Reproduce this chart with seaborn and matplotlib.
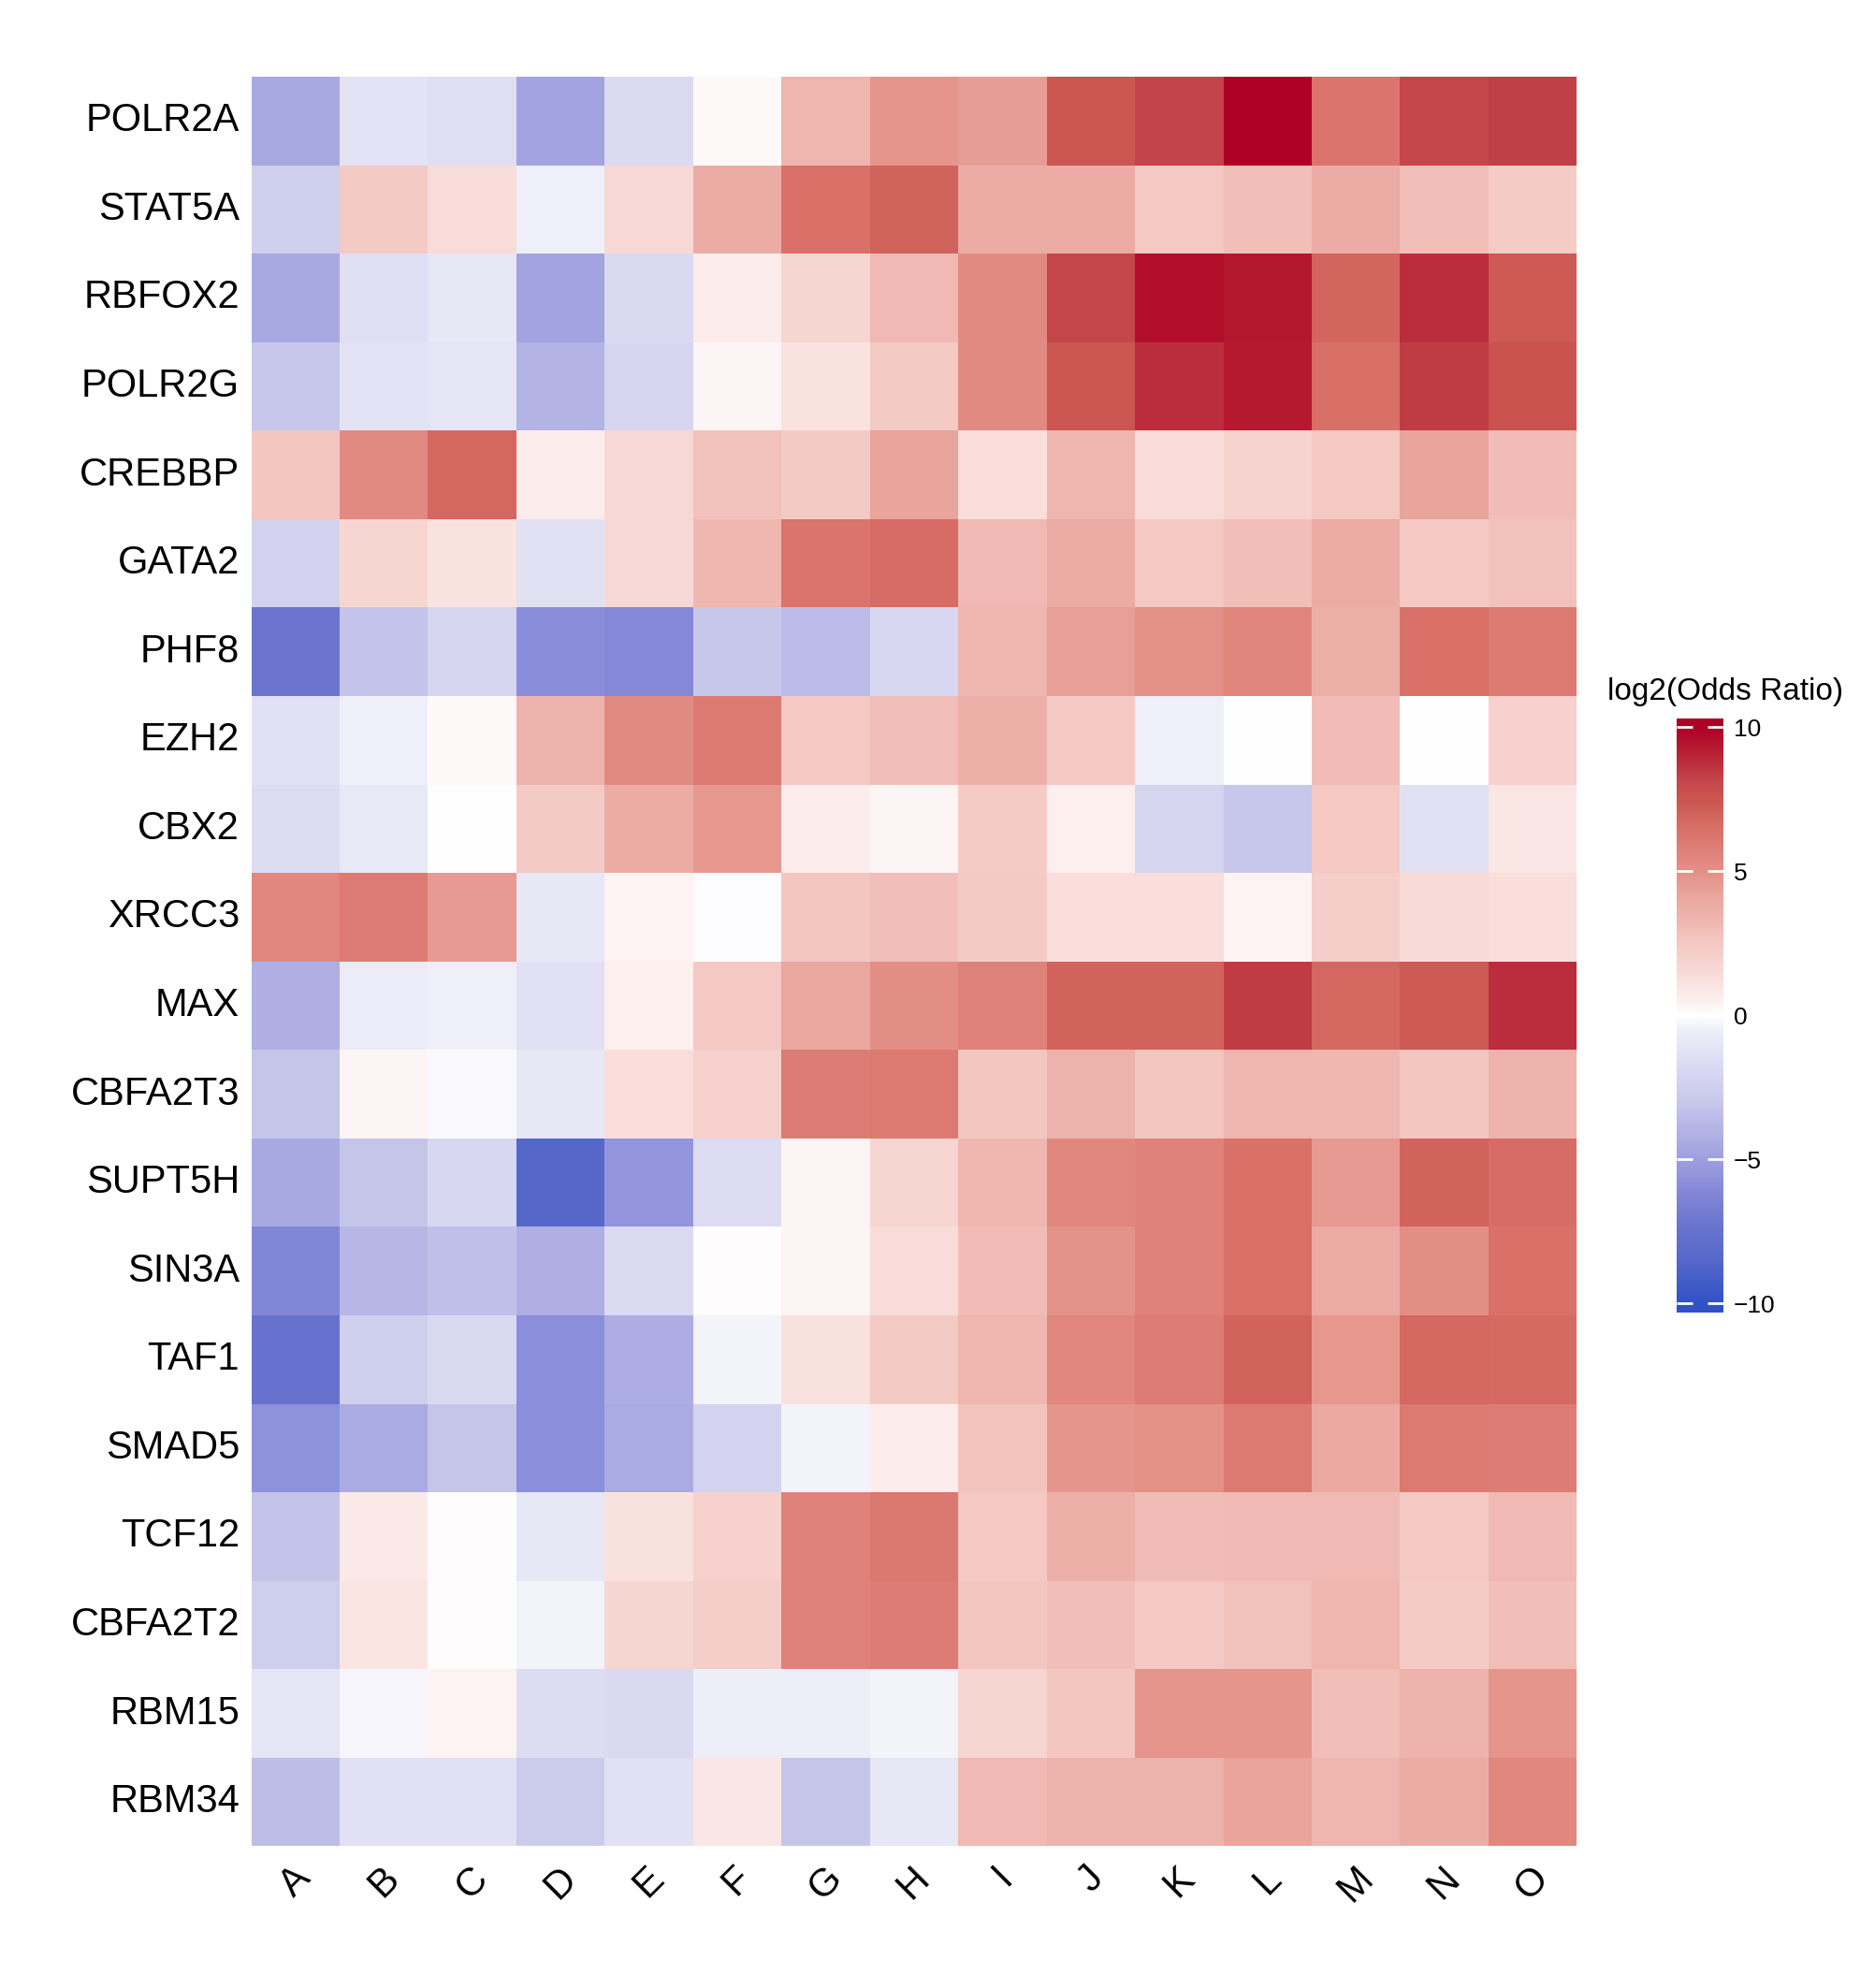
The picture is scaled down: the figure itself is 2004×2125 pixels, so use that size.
import numpy as np
import pandas as pd
import matplotlib
matplotlib.use("Agg")
import matplotlib.pyplot as plt
import seaborn as sns
from matplotlib.colors import LinearSegmentedColormap

genes = ["POLR2A", "STAT5A", "RBFOX2", "POLR2G", "CREBBP", "GATA2", "PHF8", "EZH2",
         "CBX2", "XRCC3", "MAX", "CBFA2T3", "SUPT5H", "SIN3A", "TAF1", "SMAD5",
         "TCF12", "CBFA2T2", "RBM15", "RBM34"]
samples = list("ABCDEFGHIJKLMNO")

POLR2A  = [-4.5, -1.2, -1.5, -4.8, -1.7, 0.2, 3.3, 4.8, 4.5, 7.5, 8.2, 10.0, 6.3, 8.1, 8.3]
STAT5A  = [-2.5, 2.4, 1.4, -0.5, 1.6, 3.8, 6.4, 7.0, 3.8, 3.9, 2.5, 2.9, 3.8, 2.9, 2.3]
RBFOX2  = [-4.5, -1.5, -1.0, -4.8, -1.8, 0.6, 1.7, 3.1, 5.3, 8.1, 9.6, 9.4, 6.9, 8.8, 7.3]
POLR2G  = [-3.0, -1.2, -1.1, -4.0, -2.0, 0.3, 1.1, 2.4, 5.3, 7.5, 8.8, 9.3, 6.5, 8.4, 7.6]
CREBBP  = [2.6, 5.3, 6.8, 0.6, 1.6, 2.8, 2.4, 4.2, 1.3, 3.3, 1.4, 1.9, 2.5, 4.2, 3.0]
GATA2   = [-2.3, 1.7, 1.1, -1.3, 1.6, 3.2, 6.3, 6.6, 3.1, 3.9, 2.5, 2.9, 3.8, 2.5, 2.8]
PHF8    = [-7.3, -3.2, -2.1, -5.9, -6.1, -3.0, -3.6, -1.9, 3.3, 4.4, 5.0, 5.5, 3.6, 6.4, 6.0]
EZH2    = [-1.4, -0.5, 0.2, 3.4, 5.3, 6.0, 2.5, 2.9, 3.6, 2.5, -0.5, 0.0, 3.0, 0.0, 2.0]
CBX2    = [-1.6, -0.9, 0.0, 2.4, 3.8, 4.7, 0.6, 0.3, 2.3, 0.5, -2.1, -3.0, 2.5, -1.3, 0.9]
XRCC3   = [5.4, 5.9, 4.6, -1.0, 0.4, -0.1, 2.6, 2.9, 2.4, 1.3, 1.3, 0.4, 2.2, 1.5, 1.3]
MAX     = [-4.2, -0.7, -0.5, -1.4, 0.5, 2.5, 4.1, 5.1, 5.6, 7.0, 7.0, 8.4, 6.8, 7.3, 8.8]
CBFA2T3 = [-3.1, 0.3, -0.2, -1.0, 1.3, 2.0, 5.9, 6.0, 2.6, 3.5, 2.6, 3.3, 3.2, 2.6, 3.4]
SUPT5H  = [-4.5, -3.1, -1.9, -8.5, -5.5, -1.6, 0.3, 1.7, 3.2, 5.4, 5.6, 6.4, 4.6, 7.0, 6.6]
SIN3A   = [-6.2, -3.8, -3.4, -4.2, -1.7, 0.1, 0.3, 1.4, 3.0, 4.9, 5.6, 6.4, 3.9, 5.1, 6.4]
TAF1    = [-7.5, -2.5, -1.8, -5.8, -4.3, -0.4, 1.2, 2.4, 3.3, 5.4, 5.9, 7.0, 4.7, 6.8, 6.7]
SMAD5   = [-5.7, -4.4, -3.1, -5.8, -4.4, -2.2, -0.4, 0.6, 2.7, 4.8, 5.0, 6.0, 4.0, 6.0, 5.9]
TCF12   = [-3.2, 0.8, 0.1, -1.0, 1.2, 2.0, 5.6, 6.1, 2.5, 3.6, 3.0, 3.1, 3.1, 2.5, 3.1]
CBFA2T2 = [-2.6, 1.0, 0.1, -0.4, 1.7, 2.2, 5.6, 5.9, 2.6, 2.9, 2.5, 2.8, 3.3, 2.3, 2.9]
RBM15   = [-1.1, -0.3, 0.4, -1.6, -1.8, -0.6, -0.6, -0.4, 1.7, 2.6, 4.8, 4.8, 2.9, 3.4, 4.8]
RBM34   = [-3.5, -1.4, -1.4, -2.8, -1.3, 0.9, -3.1, -1.0, 3.1, 3.5, 3.5, 4.2, 3.3, 3.8, 5.4]

rows = [POLR2A, STAT5A, RBFOX2, POLR2G, CREBBP, GATA2, PHF8, EZH2, CBX2, XRCC3,
        MAX, CBFA2T3, SUPT5H, SIN3A, TAF1, SMAD5, TCF12, CBFA2T2, RBM15, RBM34]
df = pd.DataFrame(rows, index=genes, columns=samples)

cb_ticks = [-10, -5, 0, 5, 10]

# colour ramp (value -> colour)
ramp = [(-10.0, "#3152C4"), (-8.5, "#5668CA"), (-7.3, "#6A74CF"), (-6.2, "#8386D6"),
        (-5.8, "#8C8FDA"), (-4.5, "#A9A9E2"), (-4.0, "#B3B3E5"), (-3.2, "#C4C3EA"),
        (-2.8, "#CBCBEC"), (-1.8, "#DAD9F2"), (-1.2, "#E4E3F5"), (-0.5, "#EFEFF9"),
        (0.0, "#FFFFFF"), (0.5, "#FCEFEE"), (1.5, "#F8DAD6"), (2.5, "#F4C8C3"),
        (3.3, "#EFB5AF"), (4.0, "#EBA9A2"), (4.8, "#E5958C"), (5.5, "#E0857C"),
        (6.5, "#D87068"), (7.5, "#CB5550"), (8.2, "#C3444A"), (9.3, "#B51A30"),
        (10.0, "#AE0026")]
VMIN, VMAX = -10.3, 10.3
nodes = [(0.0, ramp[0][1])] + [((v - VMIN) / (VMAX - VMIN), c) for v, c in ramp] + [(1.0, ramp[-1][1])]
cmap = LinearSegmentedColormap.from_list("or_cmap", nodes, N=512)

plt.rcParams['font.family'] = ['Liberation Sans', 'DejaVu Sans']

fig = plt.figure(figsize=(20.04, 21.25), dpi=100)
ax = fig.add_axes([0.134, 0.0713, 0.707, 0.8901])
cax = fig.add_axes([0.894, 0.3399, 0.025, 0.2988])

sns.heatmap(df, ax=ax, cmap=cmap, vmin=VMIN, vmax=VMAX, cbar_ax=cax,
            cbar_kws={"ticks": cb_ticks})

ax.tick_params(axis='both', length=0)
ax.tick_params(axis='y', pad=9, labelsize=30)
ax.tick_params(axis='x', pad=10, labelsize=30)
ax.set_yticklabels(genes, rotation=0, ha='right', va='center')
ax.set_xticklabels(samples, rotation=45, ha='center', va='top')
ax.set_xlabel("")
ax.set_ylabel("")

cbar = ax.collections[0].colorbar
cbar.outline.set_visible(False)
cbar.ax.tick_params(direction='in', length=12, width=2, color='white',
                    left=True, right=True, labelcolor='black', labelsize=19, pad=8)
cbar.ax.set_yticklabels([f"{t:d}".replace('-', '\u2212') for t in cb_ticks])

fig.text(0.9202, 0.6518, "log2(Odds Ratio)", ha='center', va='center', fontsize=24)

fig.savefig("out.png", dpi=100)
